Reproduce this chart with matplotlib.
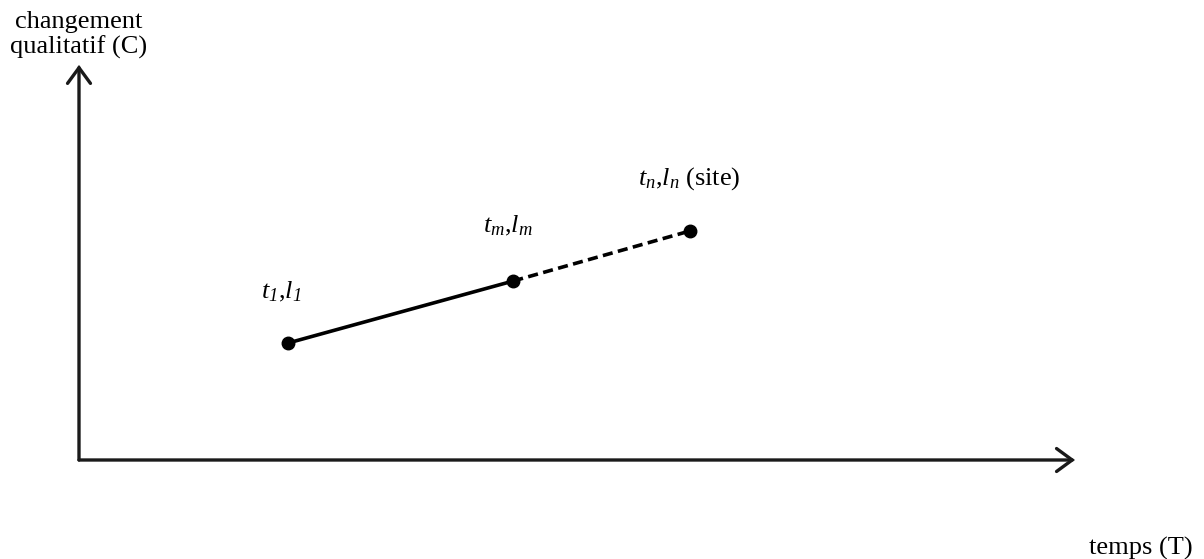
import matplotlib
matplotlib.use("Agg")
import matplotlib.pyplot as plt

# Data (arbitrary units along T and C axes)
T = [2.1, 4.36, 6.13]
C = [3.0, 4.59, 5.87]
point_labels = [r"$t_1$,$l_1$", r"$t_m$,$l_m$", r"$t_n$,$l_n$ (site)"]
x_label = "temps (T)"
y_label = "changement\nqualitatif (C)"

plt.rcParams['font.family'] = ['Liberation Serif', 'DejaVu Serif']
plt.rcParams['mathtext.fontset'] = 'custom'
plt.rcParams['mathtext.rm'] = 'Liberation Serif:italic'
plt.rcParams['mathtext.it'] = 'Liberation Serif:italic'
plt.rcParams['mathtext.default'] = 'it'

W, H = 1204, 559
fig = plt.figure(figsize=(W / 100, H / 100), dpi=100)
x0, y0, x1, y1 = 79, 460, 1075, 70
ax = fig.add_axes([x0 / W, (H - y0) / H, (x1 - x0) / W, (y0 - y1) / H])
ax.set_xlim(0, 10)
ax.set_ylim(0, 10)
ax.axis('off')

# Axes arrows
arrow_kw = dict(arrowstyle='->,head_length=0.75,head_width=0.55', lw=2.4, color='#1a1a1a',
                mutation_scale=15, shrinkA=0, shrinkB=0, joinstyle='miter')
ax.annotate('', xy=(0, 1.013), xytext=(0, 0), xycoords='axes fraction', arrowprops=arrow_kw)
ax.annotate('', xy=(1.0, 0), xytext=(0, 0), xycoords='axes fraction', arrowprops=arrow_kw)

# Lines
ax.plot(T[:2], C[:2], color='black', lw=2.6, solid_capstyle='butt', clip_on=False)
ax.plot(T[1:], C[1:], color='black', lw=2.6, dashes=(2.8, 1.5), clip_on=False)
ax.plot(T, C, 'o', color='black', ms=9, clip_on=False, zorder=5)

offsets = [(-5, 37), (-4, 40), (0, 38)]
for t, c, lab, off in zip(T, C, point_labels, offsets):
    ax.annotate(lab, xy=(t, c), xytext=off, textcoords='offset points',
                ha='center', va='center', fontsize=19)

ax.text(0.0, 1.09, y_label, transform=ax.transAxes, ha='center', va='center',
        fontsize=19, multialignment='center', linespacing=1.1)
ax.text(1.066, -0.226, x_label, transform=ax.transAxes, ha='center', va='center', fontsize=19)

fig.savefig('out.png', dpi=100)
